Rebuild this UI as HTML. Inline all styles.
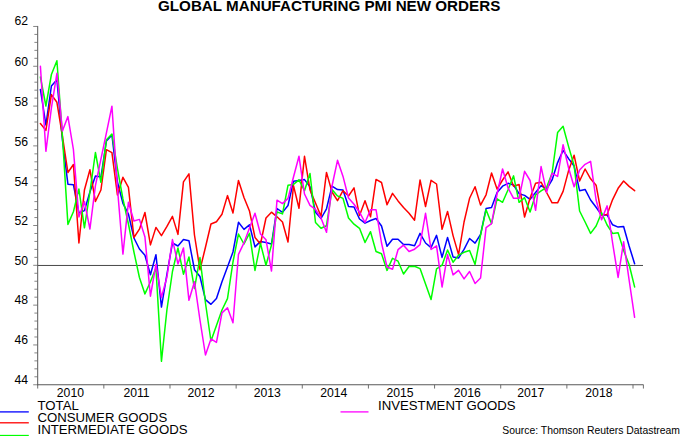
<!DOCTYPE html>
<html><head><meta charset="utf-8"><title>Global Manufacturing PMI New Orders</title>
<style>
html,body{margin:0;padding:0;background:#fff;}
body{width:680px;height:436px;position:relative;overflow:hidden;font-family:"Liberation Sans",sans-serif;color:#000;}
.t{position:absolute;white-space:nowrap;line-height:1;}
.title{font-weight:bold;font-size:15.2px;left:158px;top:-2.2px;}
.yl{font-size:12.2px;width:30px;text-align:right;left:-2px;}
.xl{font-size:12.2px;width:60px;text-align:center;}
.lg{font-size:13.2px;}
.src{font-size:10.4px;}
</style></head><body>
<svg width="680" height="436" viewBox="0 0 680 436" style="position:absolute;left:0;top:0">
<g stroke="#585858" stroke-width="1" fill="none">
<line x1="37.7" y1="25.96" x2="37.7" y2="385.25"/>
<line x1="37.2" y1="384.75" x2="643.5" y2="384.75"/>
<line x1="33.2" y1="384.75" x2="37.7" y2="384.75" stroke="#686868" stroke-width="0.8"/>
<line x1="34.4" y1="376.79" x2="37.7" y2="376.79" stroke="#686868" stroke-width="0.8"/>
<line x1="34.4" y1="368.83" x2="37.7" y2="368.83" stroke="#686868" stroke-width="0.8"/>
<line x1="34.4" y1="360.86" x2="37.7" y2="360.86" stroke="#686868" stroke-width="0.8"/>
<line x1="34.4" y1="352.90" x2="37.7" y2="352.90" stroke="#686868" stroke-width="0.8"/>
<line x1="33.2" y1="344.94" x2="37.7" y2="344.94" stroke="#686868" stroke-width="0.8"/>
<line x1="34.4" y1="336.98" x2="37.7" y2="336.98" stroke="#686868" stroke-width="0.8"/>
<line x1="34.4" y1="329.02" x2="37.7" y2="329.02" stroke="#686868" stroke-width="0.8"/>
<line x1="34.4" y1="321.05" x2="37.7" y2="321.05" stroke="#686868" stroke-width="0.8"/>
<line x1="34.4" y1="313.09" x2="37.7" y2="313.09" stroke="#686868" stroke-width="0.8"/>
<line x1="33.2" y1="305.13" x2="37.7" y2="305.13" stroke="#686868" stroke-width="0.8"/>
<line x1="34.4" y1="297.17" x2="37.7" y2="297.17" stroke="#686868" stroke-width="0.8"/>
<line x1="34.4" y1="289.21" x2="37.7" y2="289.21" stroke="#686868" stroke-width="0.8"/>
<line x1="34.4" y1="281.24" x2="37.7" y2="281.24" stroke="#686868" stroke-width="0.8"/>
<line x1="34.4" y1="273.28" x2="37.7" y2="273.28" stroke="#686868" stroke-width="0.8"/>
<line x1="33.2" y1="265.32" x2="37.7" y2="265.32" stroke="#686868" stroke-width="0.8"/>
<line x1="34.4" y1="257.36" x2="37.7" y2="257.36" stroke="#686868" stroke-width="0.8"/>
<line x1="34.4" y1="249.40" x2="37.7" y2="249.40" stroke="#686868" stroke-width="0.8"/>
<line x1="34.4" y1="241.43" x2="37.7" y2="241.43" stroke="#686868" stroke-width="0.8"/>
<line x1="34.4" y1="233.47" x2="37.7" y2="233.47" stroke="#686868" stroke-width="0.8"/>
<line x1="33.2" y1="225.51" x2="37.7" y2="225.51" stroke="#686868" stroke-width="0.8"/>
<line x1="34.4" y1="217.55" x2="37.7" y2="217.55" stroke="#686868" stroke-width="0.8"/>
<line x1="34.4" y1="209.59" x2="37.7" y2="209.59" stroke="#686868" stroke-width="0.8"/>
<line x1="34.4" y1="201.62" x2="37.7" y2="201.62" stroke="#686868" stroke-width="0.8"/>
<line x1="34.4" y1="193.66" x2="37.7" y2="193.66" stroke="#686868" stroke-width="0.8"/>
<line x1="33.2" y1="185.70" x2="37.7" y2="185.70" stroke="#686868" stroke-width="0.8"/>
<line x1="34.4" y1="177.74" x2="37.7" y2="177.74" stroke="#686868" stroke-width="0.8"/>
<line x1="34.4" y1="169.78" x2="37.7" y2="169.78" stroke="#686868" stroke-width="0.8"/>
<line x1="34.4" y1="161.81" x2="37.7" y2="161.81" stroke="#686868" stroke-width="0.8"/>
<line x1="34.4" y1="153.85" x2="37.7" y2="153.85" stroke="#686868" stroke-width="0.8"/>
<line x1="33.2" y1="145.89" x2="37.7" y2="145.89" stroke="#686868" stroke-width="0.8"/>
<line x1="34.4" y1="137.93" x2="37.7" y2="137.93" stroke="#686868" stroke-width="0.8"/>
<line x1="34.4" y1="129.97" x2="37.7" y2="129.97" stroke="#686868" stroke-width="0.8"/>
<line x1="34.4" y1="122.00" x2="37.7" y2="122.00" stroke="#686868" stroke-width="0.8"/>
<line x1="34.4" y1="114.04" x2="37.7" y2="114.04" stroke="#686868" stroke-width="0.8"/>
<line x1="33.2" y1="106.08" x2="37.7" y2="106.08" stroke="#686868" stroke-width="0.8"/>
<line x1="34.4" y1="98.12" x2="37.7" y2="98.12" stroke="#686868" stroke-width="0.8"/>
<line x1="34.4" y1="90.16" x2="37.7" y2="90.16" stroke="#686868" stroke-width="0.8"/>
<line x1="34.4" y1="82.19" x2="37.7" y2="82.19" stroke="#686868" stroke-width="0.8"/>
<line x1="34.4" y1="74.23" x2="37.7" y2="74.23" stroke="#686868" stroke-width="0.8"/>
<line x1="33.2" y1="66.27" x2="37.7" y2="66.27" stroke="#686868" stroke-width="0.8"/>
<line x1="34.4" y1="58.31" x2="37.7" y2="58.31" stroke="#686868" stroke-width="0.8"/>
<line x1="34.4" y1="50.35" x2="37.7" y2="50.35" stroke="#686868" stroke-width="0.8"/>
<line x1="34.4" y1="42.38" x2="37.7" y2="42.38" stroke="#686868" stroke-width="0.8"/>
<line x1="34.4" y1="34.42" x2="37.7" y2="34.42" stroke="#686868" stroke-width="0.8"/>
<line x1="33.2" y1="26.46" x2="37.7" y2="26.46" stroke="#686868" stroke-width="0.8"/>
<line x1="37.70" y1="384.75" x2="37.70" y2="388.55" stroke="#606060" stroke-width="0.9"/>
<line x1="103.84" y1="384.75" x2="103.84" y2="388.55" stroke="#606060" stroke-width="0.9"/>
<line x1="169.99" y1="384.75" x2="169.99" y2="388.55" stroke="#606060" stroke-width="0.9"/>
<line x1="236.13" y1="384.75" x2="236.13" y2="388.55" stroke="#606060" stroke-width="0.9"/>
<line x1="302.28" y1="384.75" x2="302.28" y2="388.55" stroke="#606060" stroke-width="0.9"/>
<line x1="368.42" y1="384.75" x2="368.42" y2="388.55" stroke="#606060" stroke-width="0.9"/>
<line x1="434.57" y1="384.75" x2="434.57" y2="388.55" stroke="#606060" stroke-width="0.9"/>
<line x1="500.71" y1="384.75" x2="500.71" y2="388.55" stroke="#606060" stroke-width="0.9"/>
<line x1="566.86" y1="384.75" x2="566.86" y2="388.55" stroke="#606060" stroke-width="0.9"/>
<line x1="633.00" y1="384.75" x2="633.00" y2="388.55" stroke="#606060" stroke-width="0.9"/>
<line x1="643.4" y1="384.75" x2="643.4" y2="388.55" stroke="#606060" stroke-width="0.9"/>
</g>
<line x1="37.7" y1="265.46" x2="643" y2="265.46" stroke="#484848" stroke-width="1"/>
<polyline points="40.40,89.4 45.90,125.0 51.40,86.0 56.91,79.7 62.41,140.0 67.91,184.2 73.41,184.7 78.91,213.0 84.42,210.6 89.92,192.0 95.42,176.0 100.92,177.0 106.42,141.0 111.93,135.0 117.43,182.0 122.93,203.3 128.43,214.0 133.93,238.0 139.44,249.0 144.94,255.2 150.44,274.7 155.94,254.7 161.44,307.1 166.95,274.0 172.45,243.0 177.95,246.0 183.45,239.6 188.95,240.7 194.46,269.7 199.96,276.5 205.46,299.7 210.96,304.3 216.46,298.6 221.97,281.7 227.47,267.0 232.97,252.0 238.47,222.3 243.97,229.4 249.48,224.8 254.98,246.9 260.48,241.4 265.98,242.6 271.48,244.0 276.99,208.5 282.49,212.4 287.99,205.5 293.49,181.2 298.99,180.4 304.50,179.6 310.00,186.7 315.50,212.2 321.00,218.5 326.50,208.8 332.01,186.1 337.51,189.6 343.01,190.1 348.51,206.5 354.01,207.0 359.52,219.0 365.02,223.2 370.52,220.5 376.02,218.5 381.52,226.0 387.03,246.3 392.53,239.2 398.03,239.2 403.53,244.5 409.03,244.6 414.54,245.7 420.04,233.4 425.54,243.0 431.04,247.6 436.54,235.4 442.05,257.4 447.55,237.4 453.05,256.9 458.55,258.0 464.05,249.4 469.56,238.5 475.06,243.1 480.56,234.5 486.06,208.6 491.56,207.4 497.07,192.5 502.57,186.2 508.07,183.3 513.57,185.0 519.07,193.7 524.58,195.4 530.08,199.4 535.58,192.5 541.08,185.6 546.58,189.0 552.09,179.9 557.59,162.6 563.09,150.4 568.59,158.6 574.09,166.0 579.60,190.7 585.10,189.4 590.60,200.0 596.10,207.3 601.60,215.0 607.11,215.0 612.61,224.8 618.11,227.1 623.61,226.5 629.11,246.0 634.62,263.7" fill="none" stroke="#0000ff" stroke-width="1.5" stroke-linejoin="round" stroke-linecap="round"/>
<polyline points="40.40,123.5 45.90,130.4 51.40,94.6 56.91,102.3 62.41,136.0 67.91,172.5 73.41,164.5 78.91,243.0 84.42,190.0 89.92,169.7 95.42,201.5 100.92,190.0 106.42,149.7 111.93,152.6 117.43,195.0 122.93,177.3 128.43,187.4 133.93,237.5 139.44,229.2 144.94,212.5 150.44,244.9 155.94,227.4 161.44,235.7 166.95,226.4 172.45,216.4 177.95,234.4 183.45,181.8 188.95,173.8 194.46,235.0 199.96,269.7 205.46,247.3 210.96,224.0 216.46,221.8 221.97,214.3 227.47,195.6 232.97,213.0 238.47,180.4 243.97,197.5 249.48,211.0 254.98,237.4 260.48,244.0 265.98,218.0 271.48,212.2 276.99,216.8 282.49,222.0 287.99,242.0 293.49,185.6 298.99,208.2 304.50,156.3 310.00,190.0 315.50,203.0 321.00,216.2 326.50,172.4 332.01,192.0 337.51,200.7 343.01,190.7 348.51,196.0 354.01,187.8 359.52,215.6 365.02,200.7 370.52,216.8 376.02,179.4 381.52,182.5 387.03,204.7 392.53,193.4 398.03,200.9 403.53,207.6 409.03,213.3 414.54,220.2 420.04,180.0 425.54,206.5 431.04,180.3 436.54,184.0 442.05,229.3 447.55,211.4 453.05,235.6 458.55,254.6 464.05,222.0 469.56,198.3 475.06,186.8 480.56,205.1 486.06,194.8 491.56,173.0 497.07,189.0 502.57,180.0 508.07,171.9 513.57,186.2 519.07,184.5 524.58,217.0 530.08,198.0 535.58,183.3 541.08,182.2 546.58,192.5 552.09,202.8 557.59,202.8 563.09,191.4 568.59,170.6 574.09,155.2 579.60,181.0 585.10,169.0 590.60,178.8 596.10,185.2 601.60,215.0 607.11,214.5 612.61,199.6 618.11,188.3 623.61,181.0 629.11,186.4 634.62,190.7" fill="none" stroke="#ff0000" stroke-width="1.5" stroke-linejoin="round" stroke-linecap="round"/>
<polyline points="40.40,77.0 45.90,106.0 51.40,74.5 56.91,60.7 62.41,136.0 67.91,224.4 73.41,211.8 78.91,189.0 84.42,227.8 89.92,192.0 95.42,152.5 100.92,182.3 106.42,139.7 111.93,134.0 117.43,168.5 122.93,199.0 128.43,224.0 133.93,252.0 139.44,277.5 144.94,293.9 150.44,281.7 155.94,268.0 161.44,361.3 166.95,309.5 172.45,271.5 177.95,247.9 183.45,274.2 188.95,257.0 194.46,288.6 199.96,257.6 205.46,303.0 210.96,341.0 216.46,325.5 221.97,310.0 227.47,298.6 232.97,262.0 238.47,234.0 243.97,244.0 249.48,233.4 254.98,270.4 260.48,243.4 265.98,265.2 271.48,245.0 276.99,212.0 282.49,213.9 287.99,185.3 293.49,184.4 298.99,179.8 304.50,190.7 310.00,173.5 315.50,222.5 321.00,228.3 326.50,225.7 332.01,189.6 337.51,195.9 343.01,198.4 348.51,218.0 354.01,224.2 359.52,228.3 365.02,242.5 370.52,231.7 376.02,251.5 381.52,253.8 387.03,270.4 392.53,258.3 398.03,261.2 403.53,274.0 409.03,266.5 414.54,266.3 420.04,268.6 425.54,284.0 431.04,299.6 436.54,268.9 442.05,265.2 447.55,250.0 453.05,262.2 458.55,255.1 464.05,252.3 469.56,250.5 475.06,264.4 480.56,235.0 486.06,209.7 491.56,223.6 497.07,198.8 502.57,202.3 508.07,189.7 513.57,175.9 519.07,202.3 524.58,197.7 530.08,212.0 535.58,194.8 541.08,190.8 546.58,187.5 552.09,173.0 557.59,132.6 563.09,126.3 568.59,146.6 574.09,165.5 579.60,211.0 585.10,222.0 590.60,233.4 596.10,226.0 601.60,212.8 607.11,225.0 612.61,233.4 618.11,232.8 623.61,250.4 629.11,264.5 634.62,286.9" fill="none" stroke="#00ff00" stroke-width="1.5" stroke-linejoin="round" stroke-linecap="round"/>
<polyline points="40.40,66.3 45.90,151.3 51.40,108.0 56.91,73.3 62.41,131.0 67.91,116.6 73.41,149.5 78.91,217.0 84.42,201.5 89.92,229.0 95.42,185.6 100.92,159.2 106.42,132.8 111.93,106.2 117.43,188.0 122.93,254.1 128.43,202.2 133.93,221.0 139.44,219.4 144.94,237.0 150.44,296.2 155.94,264.4 161.44,297.4 166.95,277.0 172.45,239.6 177.95,263.9 183.45,247.9 188.95,300.3 194.46,281.7 199.96,320.0 205.46,355.0 210.96,338.9 216.46,342.4 221.97,312.9 227.47,307.8 232.97,322.7 238.47,254.3 243.97,242.9 249.48,228.0 254.98,213.3 260.48,234.0 265.98,239.7 271.48,271.0 276.99,200.2 282.49,203.6 287.99,198.4 293.49,177.0 298.99,156.3 304.50,194.0 310.00,205.3 315.50,209.3 321.00,218.0 326.50,232.3 332.01,186.0 337.51,160.3 343.01,176.4 348.51,198.0 354.01,204.2 359.52,212.2 365.02,222.5 370.52,209.7 376.02,209.7 381.52,243.0 387.03,267.0 392.53,269.2 398.03,249.7 403.53,245.2 409.03,251.5 414.54,249.2 420.04,244.6 425.54,213.3 431.04,249.5 436.54,245.8 442.05,287.0 447.55,254.6 453.05,274.9 458.55,270.3 464.05,278.9 469.56,271.5 475.06,283.5 480.56,278.0 486.06,227.6 491.56,223.6 497.07,194.0 502.57,169.0 508.07,188.0 513.57,198.3 519.07,198.3 524.58,171.3 530.08,180.5 535.58,210.3 541.08,166.6 546.58,192.4 552.09,173.3 557.59,176.4 563.09,144.7 568.59,168.0 574.09,186.7 579.60,170.0 585.10,164.3 590.60,161.4 596.10,200.0 601.60,219.7 607.11,205.9 612.61,243.0 618.11,277.4 623.61,241.7 629.11,280.0 634.62,317.3" fill="none" stroke="#ff00ff" stroke-width="1.5" stroke-linejoin="round" stroke-linecap="round"/>
<line x1="0" y1="411.9" x2="28.8" y2="411.9" stroke="#0000ff" stroke-width="1.3"/>
<line x1="0" y1="422.8" x2="28.8" y2="422.8" stroke="#ff0000" stroke-width="1.3"/>
<line x1="0" y1="435.5" x2="28.8" y2="435.5" stroke="#00ff00" stroke-width="1.3"/>
<line x1="340.5" y1="411.9" x2="368.5" y2="411.9" stroke="#ff00ff" stroke-width="1.3"/>
</svg>
<div class="t title">GLOBAL MANUFACTURING PMI NEW ORDERS</div>
<div class="t yl" style="top:374.4px">44</div>
<div class="t yl" style="top:334.3px">46</div>
<div class="t yl" style="top:293.9px">48</div>
<div class="t yl" style="top:254.6px">50</div>
<div class="t yl" style="top:215.0px">52</div>
<div class="t yl" style="top:175.6px">54</div>
<div class="t yl" style="top:135.8px">56</div>
<div class="t yl" style="top:95.8px">58</div>
<div class="t yl" style="top:56.2px">60</div>
<div class="t yl" style="top:14.9px">62</div>
<div class="t xl" style="left:40.4px;top:387.4px">2010</div>
<div class="t xl" style="left:106.5px;top:387.4px">2011</div>
<div class="t xl" style="left:171.0px;top:387.4px">2012</div>
<div class="t xl" style="left:237.2px;top:387.4px">2013</div>
<div class="t xl" style="left:303.7px;top:387.4px">2014</div>
<div class="t xl" style="left:370.1px;top:387.4px">2015</div>
<div class="t xl" style="left:437.2px;top:387.4px">2016</div>
<div class="t xl" style="left:500.7px;top:387.4px">2017</div>
<div class="t xl" style="left:568.9px;top:387.4px">2018</div>
<div class="t lg" style="left:37.5px;top:399px">TOTAL</div>
<div class="t lg" style="left:37.5px;top:411.2px">CONSUMER GOODS</div>
<div class="t lg" style="left:37.5px;top:423.4px">INTERMEDIATE GOODS</div>
<div class="t lg" style="left:378px;top:399px">INVESTMENT GOODS</div>
<div class="t src" style="left:502.3px;top:425.7px">Source: Thomson Reuters Datastream</div>
</body></html>
